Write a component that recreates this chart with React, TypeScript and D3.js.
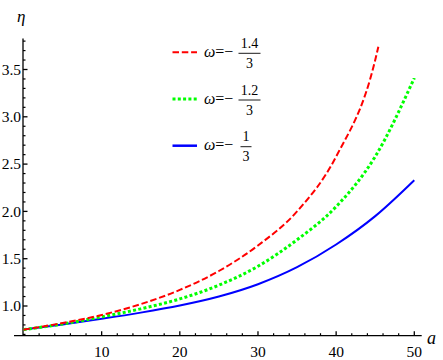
import React from "react";
import * as d3 from "d3";

// a grid for the curves
const aGrid = [0, 5, 10, 15, 20, 25, 30, 35, 40, 45, 50];
const aRed = [0, 5, 10, 15, 20, 25, 30, 35, 40, 45, 45.4];

// eta values
const etaRed = [0.75, 0.82, 0.905, 1.02, 1.17, 1.37, 1.64, 2.0, 2.58, 3.6, 3.74];
const etaGreen = [0.75, 0.81, 0.885, 0.97, 1.075, 1.22, 1.42, 1.7, 2.05, 2.58, 3.41];
const etaBlue = [0.75, 0.805, 0.865, 0.93, 1.005, 1.1, 1.23, 1.41, 1.65, 1.95, 2.33];

const xTicks = [10, 20, 30, 40, 50];
const yTicks = [1.0, 1.5, 2.0, 2.5, 3.0, 3.5];

const legendNums = ["1.4", "1.2", "1"];
const legendColors = ["#ff0000", "#00ff00", "#0000ff"];

const FONT = "Liberation Serif";

const width = 443;
const height = 360;

const x = d3.scaleLinear().domain([0, 50]).range([23.5, 414.3]);
const y = d3.scaleLinear().domain([1, 3.5]).range([306, 69.5]);

const x0 = 23;
const axisY = 335.7;

const yMinor = d3.range(7, 39).map((v) => v / 10).filter((v) => Math.abs(v * 2 - Math.round(v * 2)) > 1e-6);
const xMinor = d3.range(2, 51, 2).filter((v) => v % 10 !== 0);

const line = d3
    .line<[number, number]>()
    .x((d) => x(d[0]))
    .y((d) => y(d[1]))
    .curve(d3.curveMonotoneX);

const styles = [
    { dash: "6.5,2.8", w: 2 },
    { dash: "3,2.3", w: 3 },
    { dash: undefined, w: 2 },
];

const curves = [
    { pts: aGrid.map((a, i) => [a, etaBlue[i]] as [number, number]), color: legendColors[2], ...styles[2] },
    { pts: aGrid.map((a, i) => [a, etaGreen[i]] as [number, number]), color: legendColors[1], ...styles[1] },
    { pts: aRed.map((a, i) => [a, etaRed[i]] as [number, number]), color: legendColors[0], ...styles[0] },
];

const fmt = d3.format(".1f");

const App = () => {
    return (
        <svg
            width={width}
            height={height}
            fontFamily={FONT}
            style={{ position: "absolute", left: 0, top: 0, background: "#fff" }}
        >
            {/* axes */}
            <line x1={14} x2={421.7} y1={axisY} y2={axisY} stroke="#000" strokeWidth={1.3} />
            <line x1={x0} x2={x0} y1={38.5} y2={axisY} stroke="#000" strokeWidth={1.3} />

            {yMinor.map((v) => (
                <line key={"ym" + v} x1={x0} x2={x0 + 2.5} y1={y(v)} y2={y(v)} stroke="#000" strokeWidth={1.2} />
            ))}
            {yTicks.map((v) => (
                <g key={"y" + v}>
                    <line x1={x0} x2={x0 + 4.5} y1={y(v)} y2={y(v)} stroke="#000" strokeWidth={1.3} />
                    <text x={x0 - 2} y={y(v)} dy="0.34em" textAnchor="end" fontSize={15.5} fontFamily={FONT}>
                        {fmt(v)}
                    </text>
                </g>
            ))}
            {xMinor.map((v) => (
                <line key={"xm" + v} x1={x(v)} x2={x(v)} y1={axisY} y2={axisY - 2.5} stroke="#000" strokeWidth={1.2} />
            ))}
            {xTicks.map((v) => (
                <g key={"x" + v}>
                    <line x1={x(v)} x2={x(v)} y1={axisY} y2={axisY - 4.5} stroke="#000" strokeWidth={1.3} />
                    <text x={x(v)} y={357} textAnchor="middle" fontSize={15.5} fontFamily={FONT}>
                        {v}
                    </text>
                </g>
            ))}

            <text x={17} y={22} fontSize={17} fontStyle="italic" fontFamily={FONT}>η</text>
            <text x={427} y={344} fontSize={18} fontStyle="italic" fontFamily={FONT}>a</text>

            {curves.map((c, i) => (
                <path
                    key={"c" + i}
                    d={line(c.pts) || ""}
                    fill="none"
                    stroke={c.color}
                    strokeWidth={c.w}
                    strokeDasharray={c.dash}
                />
            ))}

            {/* legend */}
            {legendNums.map((num, i) => {
                const ly = 52.3 + i * 46.7;
                const cx = num.length > 1 ? 249.5 : 246;
                const bw = num.length > 1 ? 22 : 11;
                return (
                    <g key={"l" + i} transform={`translate(0,${ly})`}>
                        <line
                            x1={172.5}
                            x2={197}
                            y1={0}
                            y2={0}
                            stroke={legendColors[i]}
                            strokeWidth={i === 2 ? 2.5 : styles[i].w}
                            strokeDasharray={styles[i].dash}
                        />
                        <text x={204} y={4.5} fontSize={16} fontFamily={FONT}>
                            <tspan fontStyle="italic">ω</tspan>
                            <tspan>=−</tspan>
                        </text>
                        <line x1={cx - bw / 2} x2={cx + bw / 2} y1={1} y2={1} stroke="#000" strokeWidth={0.9} />
                        <text x={cx} y={-4.3} textAnchor="middle" fontSize={14} fontFamily={FONT}>{num}</text>
                        <text x={cx} y={15.7} textAnchor="middle" fontSize={14} fontFamily={FONT}>3</text>
                    </g>
                );
            })}
        </svg>
    );
};

export default App;
